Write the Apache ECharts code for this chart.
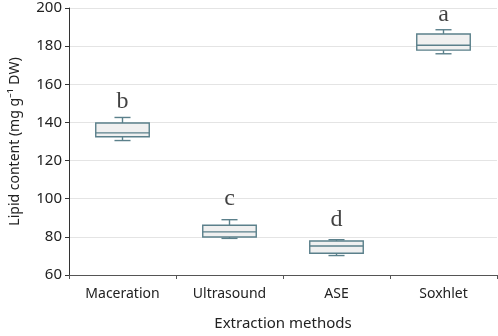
<!DOCTYPE html>
<html>
<head>
<meta charset="utf-8">
<script src="https://cdn.jsdelivr.net/npm/echarts@6/dist/echarts.min.js"></script>
<style>
  html, body { margin: 0; padding: 0; background: #fff; }
  #chart { width: 498px; height: 336px; }
</style>
</head>
<body>
<div id="chart"></div>
<script>
// categories and box statistics
const methods = ['Maceration', 'Ultrasound', 'ASE', 'Soxhlet'];
const whiskerLow = [130.5, 79.2, 70.2, 176.0];
const q1 = [132.5, 79.9, 71.4, 177.9];
const median = [134.5, 82.6, 75.2, 180.5];
const q3 = [139.7, 86.1, 77.8, 186.4];
const whiskerHigh = [142.6, 89.0, 78.5, 188.6];
// significance letters and the value of their baseline
const letters = ['b', 'c', 'd', 'a'];
const letterY = [147.1, 96.5, 85.4, 192.8];

const boxData = methods.map((m, i) => [i, whiskerLow[i], q1[i], median[i], q3[i], whiskerHigh[i]]);
const letterData = methods.map((m, i) => ({ value: [i, letterY[i]], name: letters[i] }));

const myChart = echarts.init(document.getElementById('chart'));

const lineCol = '#5b808b';

function renderBox(params, api) {
  const x = api.value(0);
  const pLow = api.coord([x, api.value(1)]);
  const pQ1 = api.coord([x, api.value(2)]);
  const pMed = api.coord([x, api.value(3)]);
  const pQ3 = api.coord([x, api.value(4)]);
  const pHigh = api.coord([x, api.value(5)]);
  const bandW = api.size([1, 0])[0];
  const boxW = bandW * 0.5;
  const capW = boxW * 0.3;
  const cx = pMed[0];
  const lineStyle = { stroke: lineCol, lineWidth: 1.4, fill: null };
  return {
    type: 'group',
    children: [
      { type: 'line', shape: { x1: cx, y1: pQ3[1], x2: cx, y2: pHigh[1] }, style: lineStyle },
      { type: 'line', shape: { x1: cx, y1: pQ1[1], x2: cx, y2: pLow[1] }, style: lineStyle },
      { type: 'line', shape: { x1: cx - capW / 2, y1: pHigh[1], x2: cx + capW / 2, y2: pHigh[1] }, style: lineStyle },
      { type: 'line', shape: { x1: cx - capW / 2, y1: pLow[1], x2: cx + capW / 2, y2: pLow[1] }, style: lineStyle },
      {
        type: 'rect',
        shape: { x: cx - boxW / 2, y: pQ3[1], width: boxW, height: pQ1[1] - pQ3[1] },
        style: { fill: '#f0f0f0', stroke: lineCol, lineWidth: 1.4 }
      },
      { type: 'line', shape: { x1: cx - boxW / 2, y1: pMed[1], x2: cx + boxW / 2, y2: pMed[1] }, style: lineStyle }
    ]
  };
}

const option = {
  animation: false,
  grid: { left: 62, right: 1, top: 8, bottom: 58 },
  xAxis: {
    type: 'category',
    data: methods,
    name: 'Extraction methods',
    nameLocation: 'middle',
    nameGap: 41,
    nameTextStyle: { fontFamily: 'Noto Sans', fontSize: 15, color: '#222' },
    axisLine: { lineStyle: { color: '#555', width: 1 } },
    axisTick: { show: true, length: 4, lineStyle: { color: '#555' } },
    axisLabel: { fontFamily: 'Noto Sans', fontSize: 14, color: '#222', margin: 12 },
    splitLine: { show: false }
  },
  yAxis: {
    type: 'value',
    min: 60,
    max: 200,
    interval: 20,
    name: 'Lipid content (mg g\u207B\u00B9 DW)',
    nameLocation: 'middle',
    nameGap: 47,
    nameTextStyle: { fontFamily: 'Noto Sans', fontSize: 14, color: '#222' },
    axisLine: { show: true, lineStyle: { color: '#333', width: 1 } },
    axisTick: { show: true, length: 4, lineStyle: { color: '#333' } },
    axisLabel: { fontFamily: 'Noto Sans', fontSize: 15, color: '#222', margin: 7 },
    splitLine: { show: true, lineStyle: { color: '#e4e4e4', width: 1 } }
  },
  series: [
    {
      type: 'custom',
      renderItem: renderBox,
      encode: { x: 0, y: [1, 2, 3, 4, 5] },
      data: boxData,
      z: 2
    },
    {
      type: 'scatter',
      symbolSize: 0,
      data: letterData,
      label: {
        show: true,
        position: 'inside',
        formatter: p => p.name,
        fontFamily: 'Liberation Serif',
        fontSize: 24,
        color: '#111',
        verticalAlign: 'bottom',
        align: 'center',
        offset: [0, 5]
      },
      z: 3
    }
  ]
};

myChart.setOption(option);
window.addEventListener('resize', function () {
  myChart.resize();
});
</script>
</body>
</html>
